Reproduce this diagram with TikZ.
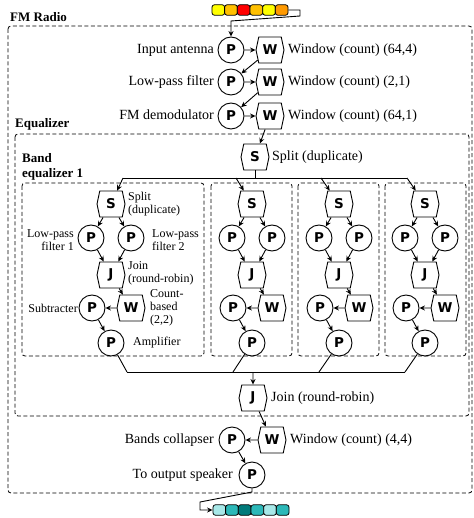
\documentclass[tikz,border=0pt]{standalone}
\usepackage{fontspec}
\setmainfont{Liberation Serif}
\newfontfamily\opfont{DejaVu Sans}
\usetikzlibrary{shapes.symbols, arrows.meta}

\definecolor{cYellow}{HTML}{FFFF00}
\definecolor{cGold}{HTML}{FFC000}
\definecolor{cRed}{HTML}{FF0000}
\definecolor{cOrange}{HTML}{FF9900}
\definecolor{cLight}{HTML}{A8E8E8}
\definecolor{cTeal}{HTML}{2CB8B8}
\definecolor{cDark}{HTML}{007A7A}

\tikzset{
  proc/.style={circle, draw, line width=0.9pt, minimum size=26pt, inner sep=0pt,
    fill=white, font=\opfont\bfseries\fontsize{13.5}{13.5}\selectfont},
  hexa/.style={signal, signal to=east and west, signal pointer angle=156, draw,
    line width=0.9pt, minimum width=28pt, minimum height=26pt, inner sep=0pt,
    fill=white, font=\opfont\bfseries\fontsize{13.5}{13.5}\selectfont},
  lbl/.style={inner sep=0pt, font=\fontsize{14}{16}\selectfont,
    text height=9.5pt, text depth=3pt},
  sml/.style={inner sep=0pt, font=\fontsize{12}{13}\selectfont, align=left},
  smr/.style={inner sep=0pt, font=\fontsize{12}{13}\selectfont, align=right},
  head/.style={inner sep=0pt, font=\bfseries\fontsize{13}{16}\selectfont, align=left},
  grp/.style={draw, line width=0.8pt, dash pattern=on 4pt off 2.5pt, rounded corners=3pt},
  arr/.style={-{Stealth[length=5.5pt,width=5pt]}, line width=0.9pt},
  wire/.style={line width=0.9pt},
  cell/.style={draw, line width=0.8pt, rounded corners=2.5pt, minimum width=12.7pt,
    minimum height=10.5pt, inner sep=0pt},
}

\begin{document}
\begin{tikzpicture}[x=1pt, y=-1pt]
\useasboundingbox (0,0) rectangle (473,518);

% ---------- group frames ----------
\draw[grp] (8,26) rectangle (472,493);
\node[head, anchor=base west] at (10,22) {FM Radio};
\draw[grp] (15,134) rectangle (469,416);
\node[head, anchor=base west] at (15,128) {Equalizer};
\node[head, anchor=base west] at (22,163) {Band};
\node[head, anchor=base west] at (22,178) {equalizer 1};
\draw[grp] (22,183) rectangle (204,356);
\draw[grp] (211,183) rectangle (292,356);
\draw[grp] (298,183) rectangle (379,356);
\draw[grp] (385,183) rectangle (466,356);

% ---------- input and output streams ----------
\foreach \col [count=\k] in {cYellow, cGold, cRed, cGold, cYellow, cOrange}
  \node[cell, fill=\col] (in\k) at ({205.65+12.67*\k},10) {};
\foreach \col [count=\k] in {cLight, cTeal, cDark, cTeal, cLight, cTeal}
  \node[cell, fill=\col] (out\k) at ({206.65+12.67*\k},510) {};

% ---------- front-end chain ----------
\node[proc] (p1) at (231,50) {P};
\node[hexa] (w1) at (270,50) {W};
\node[proc] (p2) at (231,82) {P};
\node[hexa] (w2) at (270,82) {W};
\node[proc] (p3) at (231,116) {P};
\node[hexa] (w3) at (270,116) {W};
\node[lbl, anchor=east] at (214,50) {Input antenna};
\node[lbl, anchor=east] at (214,82) {Low-pass filter};
\node[lbl, anchor=east] at (214,116) {FM demodulator};
\node[lbl, anchor=west] at (288,50) {Window (count) (64,4)};
\node[lbl, anchor=west] at (288,82) {Window (count) (2,1)};
\node[lbl, anchor=west] at (288,116) {Window (count) (64,1)};

% ---------- equalizer split / join ----------
\node[hexa] (seq) at (255,157) {S};
\node[lbl, anchor=west] at (272,157) {Split (duplicate)};
\node[hexa] (jeq) at (253,398) {J};
\node[lbl, anchor=west] at (271,398) {Join (round-robin)};

\coordinate (tr0) at (255,178);
\coordinate (bus) at (253,372);

% ---------- band equalizers ----------
\foreach \c/\i/\t/\b in {111/1/12/16, 252/2/-16/-19, 339/3/-18/-20, 425/4/-18/-20} {
  \node[hexa] (s\i) at (\c,204) {S};
  \node[proc] (pl\i) at ({\c-20},238) {P};
  \node[proc] (pr\i) at ({\c+20},238) {P};
  \node[hexa] (j\i) at (\c,275) {J};
  \node[hexa] (w\i b) at ({\c+20},308) {W};
  \node[proc] (ps\i) at ({\c-19},308) {P};
  \node[proc] (pa\i) at (\c,343) {P};
  \coordinate (tr\i) at ({\c+\t},178);
  \coordinate (bs\i) at ({\c+\b},372);
  \draw[arr] (tr\i) -- (s\i);
  \draw[arr] (s\i) -- (pl\i);
  \draw[arr] (s\i) -- (pr\i);
  \draw[arr] (pl\i) -- (j\i);
  \draw[arr] (pr\i) -- (j\i);
  \draw[arr] (j\i) -- (w\i b);
  \draw[arr] (w\i b) -- (ps\i);
  \draw[arr] (ps\i) -- (pa\i);
  \draw[wire] (pa\i) -- (bs\i);
}

\node[sml, anchor=west] at (128,204) {Split\\(duplicate)};
\node[smr, anchor=east] at (74,240) {Low-pass\\filter 1};
\node[sml, anchor=west] at (152,240) {Low-pass\\filter 2};
\node[sml, anchor=west] at (128,273) {Join\\(round-robin)};
\node[sml, anchor=west] at (150,308) {Count-\\based\\(2,2)};
\node[smr, anchor=east] at (78,308) {Subtracter};
\node[sml, anchor=west] at (133,343) {Amplifier};

% ---------- back-end chain ----------
\node[hexa] (wc) at (272,440) {W};
\node[proc] (pc) at (232,440) {P};
\node[proc] (po) at (252,475) {P};
\node[lbl, anchor=east] at (214,440) {Bands collapser};
\node[lbl, anchor=west] at (290,440) {Window (count) (4,4)};
\node[lbl, anchor=east] at (233,475) {To output speaker};

% ---------- connectors ----------
\draw[arr] (in6.east) -- (300,10) -- (300,16) -- (231,21) -- (p1);
\draw[arr] (p1) -- (w1);
\draw[arr] (w1) -- (p2);
\draw[arr] (p2) -- (w2);
\draw[arr] (w2) -- (p3);
\draw[arr] (p3) -- (w3);
\draw[arr] (w3) -- (seq);
\draw[wire] (seq) -- (tr0);
\draw[wire] (tr1) -- (tr4);
\draw[wire] (bs1) -- (bs4);
\draw[arr] (bus) -- (jeq);
\draw[arr] (jeq) -- (wc);
\draw[arr] (wc) -- (pc);
\draw[arr] (pc) -- (po);
\draw[arr] (po) -- (252,492) -- (200,502) -- (200,510) -- (out1.west);
\end{tikzpicture}
\end{document}
